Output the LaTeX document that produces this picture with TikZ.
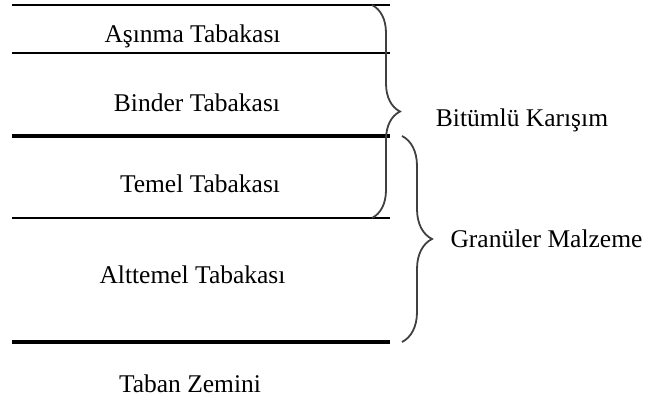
\documentclass[tikz,border=0pt]{standalone}
\usepackage{fontspec}
\setmainfont{Liberation Serif}
\usetikzlibrary{decorations.pathreplacing}
\begin{document}
\begin{tikzpicture}[x=1pt,y=-1pt,
  lbl/.style={anchor=base,inner sep=0pt,font=\fontsize{25.5}{30}\selectfont},
  thinline/.style={line width=1.6pt},
  midline/.style={line width=2.4pt},
  thickline/.style={line width=4pt},
  bracepath/.style={draw=black!75,line width=1.8pt,decorate,decoration={brace,amplitude=#1}}]
\useasboundingbox (0,0) rectangle (648,401);
% layer boundaries
\coordinate (l1a) at (12,5);   \coordinate (l1b) at (390,5);
\coordinate (l2a) at (12,53);  \coordinate (l2b) at (390,53);
\coordinate (l3a) at (12,136); \coordinate (l3b) at (390,136);
\coordinate (l4a) at (12,218); \coordinate (l4b) at (390,218);
\coordinate (l5a) at (12,342); \coordinate (l5b) at (390,342);
\draw[midline] (l1a) -- (l1b);
\draw[thinline] (l2a) -- (l2b);
\draw[thickline] (l3a) -- (l3b);
\draw[midline] (l4a) -- (l4b);
\draw[thickline] (l5a) -- (l5b);
% layer labels
\node[lbl] (asinma) at (192.5,43) {Aşınma Tabakası};
\node[lbl] (binder) at (197,112) {Binder Tabakası};
\node[lbl] (temel) at (200,193) {Temel Tabakası};
\node[lbl] (alttemel) at (192.5,283) {Alttemel Tabakası};
\node[lbl] (taban) at (190,392) {Taban Zemini};
% braces
\coordinate (b1t) at (372,5);   \coordinate (b1b) at (372,218);
\coordinate (b2t) at (402,136); \coordinate (b2b) at (402,342);
\draw[bracepath=28] (b1t) -- (b1b);
\draw[bracepath=30] (b2t) -- (b2b);
\node[lbl] (bitumlu) at (522,127) {Bitümlü Karışım};
\node[lbl] (granuler) at (546.5,247) {Granüler Malzeme};
\end{tikzpicture}
\end{document}
